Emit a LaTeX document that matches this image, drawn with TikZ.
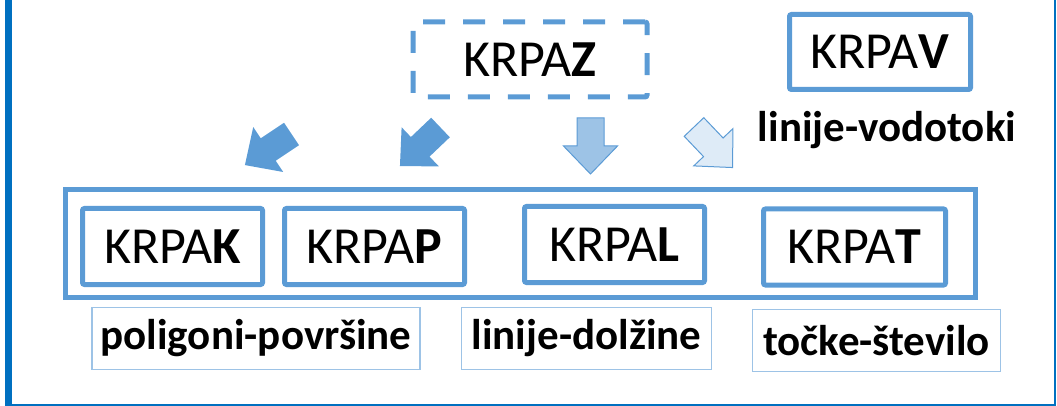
\documentclass[tikz,border=0pt]{standalone}
\usepackage{xcolor}
\usepackage{fontspec}
\setmainfont{Carlito}
\usepackage{tikz}
\usetikzlibrary{positioning}
\definecolor{accent}{HTML}{5B9BD5}
\definecolor{accentlight}{HTML}{9DC3E6}
\definecolor{accentpale}{HTML}{DEEBF7}
\definecolor{framecol}{HTML}{0070C0}
\tikzset{>=latex}
\tikzstyle{krpa} = [rectangle, draw=accent, line width=5pt, rounded corners=2pt, minimum width=180pt, minimum height=76pt, inner sep=0pt, font=\fontsize{52}{60}\selectfont]
\tikzstyle{opis} = [rectangle, draw=accentlight, line width=1.5pt, minimum height=62pt, inner sep=0pt, font=\fontsize{43}{50}\selectfont\bfseries]
\tikzset{bigarrow/.pic={\path [pic actions] (0,-13.5) -- (28,-13.5) -- (28,-27) -- (56,0) -- (28,27) -- (28,13.5) -- (0,13.5) -- cycle;}}

\begin{document}
\begin{tikzpicture}[x=1pt, y=-1pt]
\useasboundingbox (0,0) rectangle (1057,406);
\fill [framecol] (5,0) rectangle (12,406);
\draw [framecol, line width=2pt] (12,405) -- (1055,405) -- (1055,0);

\node [krpa, dash pattern=on 22pt off 18pt, minimum width=234pt, minimum height=75pt] (Z) at (530, 59.5) {KRPA\textbf{Z}};
\node [krpa, minimum width=181pt, minimum height=75pt] (V) at (880, 52) {KRPA\textbf{V}};
\node [font=\fontsize{43}{50}\selectfont\bfseries, inner sep=0pt, anchor=base] (Vopis) at (887, 142) {linije-vodotoki};

\pic [fill=accent, rotate=213.7] at (291.5, 134) {bigarrow};
\pic [fill=accent, rotate=223.6] at (440.5, 127.5) {bigarrow};
\pic [fill=accentlight, draw=accent, line width=1pt, rotate=-90] at (590.5, 118) {bigarrow};
\pic [fill=accentpale, draw=accent, line width=1pt, rotate=-46.4] at (694, 127) {bigarrow};

\node [rectangle, draw=accent, line width=5pt, minimum width=910pt, minimum height=108pt] (skupina) at (520.5, 243.5) {};
\node [krpa] (K) at (172.5, 246.5) {KRPA\textbf{K}};
\node [krpa] (P) at (374.5, 246.5) {KRPA\textbf{P}};
\node [krpa] (L) at (614.5, 244.5) {KRPA\textbf{L}};
\node [krpa, minimum width=182pt] (T) at (854.5, 247) {KRPA\textbf{T}};

\node [opis, minimum width=328pt] (Kopis) at (256, 338.5) {poligoni-površine};
\node [opis, minimum width=250pt] (Lopis) at (586.5, 338.5) {linije-dolžine};
\node [opis, minimum width=248pt] (Topis) at (876.5, 340.5) {točke-število};
\end{tikzpicture}
\end{document}
